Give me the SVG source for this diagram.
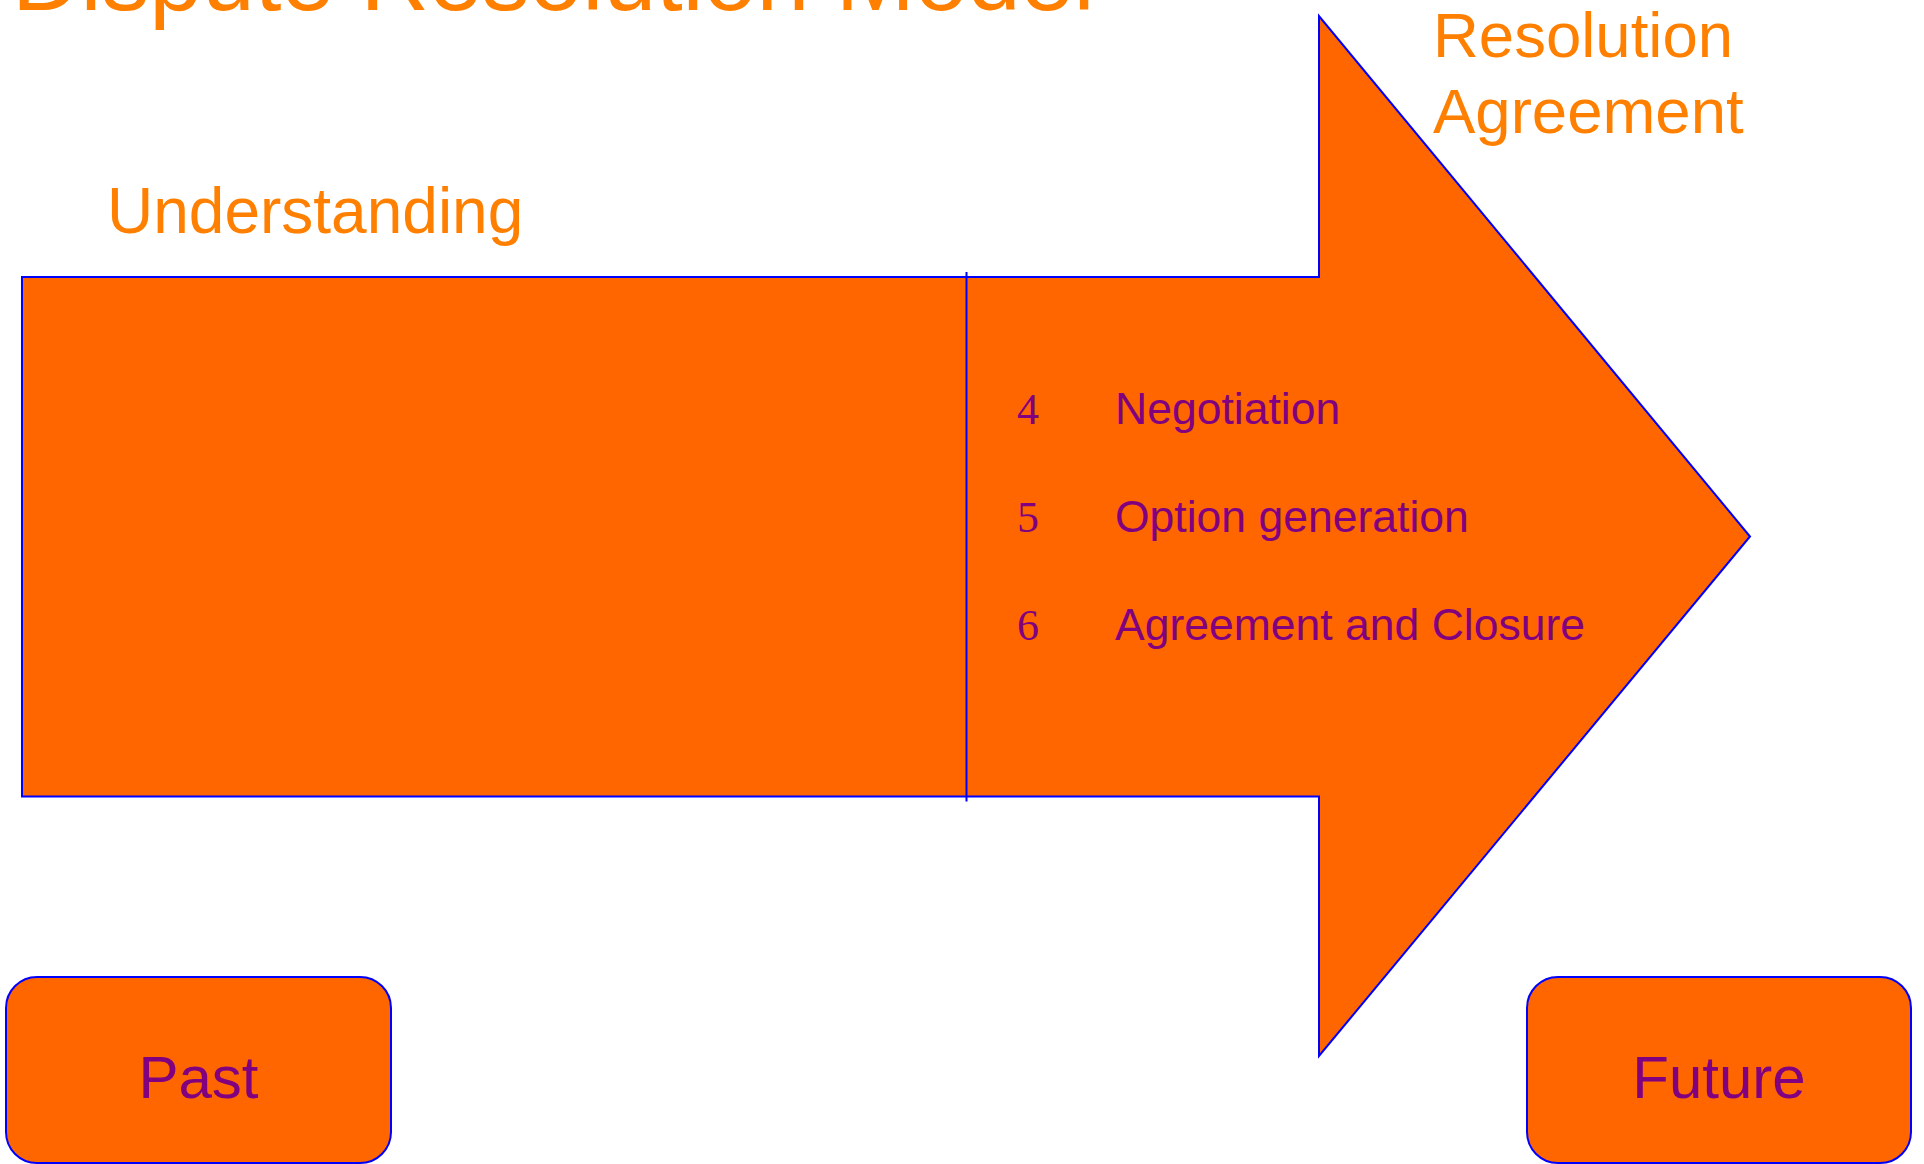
<svg xmlns="http://www.w3.org/2000/svg" width="1924" height="1164" viewBox="0 0 1924 1164">
  <style>
    .shape { fill: #FF6600; stroke: #0000FF; stroke-width: 2; }
    .heading { font-family: "Liberation Sans", Arial, sans-serif; fill: #FF8000; }
    .label { font-family: "Liberation Sans", Arial, sans-serif; fill: #800080; }
    .num { font-family: "Liberation Serif", "Times New Roman", serif; fill: #800080; font-size: 44px; }
    .item { font-size: 44.5px; }
    .box-text { font-size: 60px; text-anchor: middle; }
  </style>

  <rect width="1924" height="1164" fill="#FFFFFF"/>

  <!-- Title, partly above the top edge -->
  <text class="heading" x="12" y="10" font-size="95">Dispute Resolution Model</text>

  <!-- Stage headings -->
  <text class="heading" x="107" y="233" font-size="64">Understanding</text>
  <text class="heading" x="1433" y="57" font-size="63.5">Resolution</text>
  <text class="heading" x="1433" y="133" font-size="63.5">Agreement</text>

  <!-- Main process arrow -->
  <g id="process-arrow">
    <polygon class="shape" points="22,277 1319,277 1319,16 1750,536.5 1319,1056 1319,796.5 22,796.5"/>
  </g>

  <!-- Divider between the two phases -->
  <g id="connectors">
    <line x1="966.5" y1="272" x2="966.5" y2="801.5" stroke="#0000FF" stroke-width="2"/>
  </g>

  <!-- Resolution steps -->
  <g id="steps">
    <text class="num" x="1017" y="424">4</text>
    <text class="label item" x="1115" y="424">Negotiation</text>
    <text class="num" x="1017" y="532">5</text>
    <text class="label item" x="1115" y="532">Option generation</text>
    <text class="num" x="1017" y="640">6</text>
    <text class="label item" x="1115" y="640">Agreement and Closure</text>
  </g>

  <!-- Time markers -->
  <g id="past">
    <rect class="shape" x="6" y="977" width="385" height="186" rx="31" ry="31"/>
    <text class="label box-text" x="198.5" y="1098">Past</text>
  </g>

  <g id="future">
    <rect class="shape" x="1527" y="977" width="384" height="186" rx="31" ry="31"/>
    <text class="label box-text" x="1719" y="1098">Future</text>
  </g>
</svg>
